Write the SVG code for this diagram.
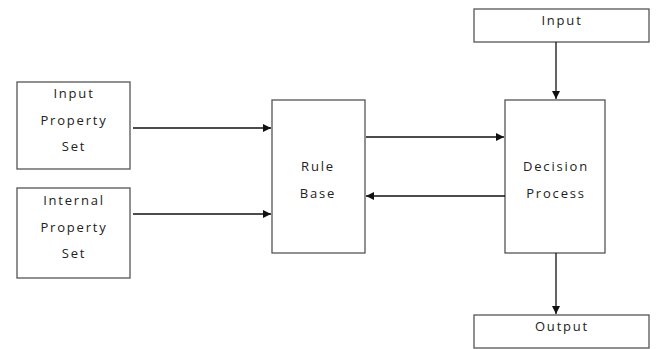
<svg xmlns="http://www.w3.org/2000/svg" width="656" height="349" viewBox="0 0 656 349">
  <style>
    .box { fill: #ffffff; stroke: #555555; stroke-width: 1.3; }
    .lbl { font-family: "Open Sans", "Liberation Sans", Arial, sans-serif; font-size: 13px; fill: #222222; text-anchor: middle; letter-spacing: 1.8px; }
    .wire { stroke: #111111; stroke-width: 1.3; fill: none; marker-end: url(#arrow); }
  </style>
  <defs>
    <marker id="arrow" viewBox="0 0 10 10" refX="10" refY="5" markerWidth="10" markerHeight="8" markerUnits="userSpaceOnUse" orient="auto">
      <path d="M0,0 L10,5 L0,10 z" fill="#111111"/>
    </marker>
  </defs>
  <rect width="656" height="349" fill="#ffffff"/>

  <g id="input-property-set">
    <rect class="box" x="17" y="82" width="113" height="87"/>
    <text class="lbl" x="74" y="98">Input</text>
    <text class="lbl" x="74" y="125">Property</text>
    <text class="lbl" x="74" y="151">Set</text>
  </g>

  <g id="internal-property-set">
    <rect class="box" x="17" y="188" width="113" height="90"/>
    <text class="lbl" x="74" y="205">Internal</text>
    <text class="lbl" x="74" y="232">Property</text>
    <text class="lbl" x="74" y="258">Set</text>
  </g>

  <g id="rule-base">
    <rect class="box" x="272" y="100" width="93" height="153"/>
    <text class="lbl" x="318" y="171">Rule</text>
    <text class="lbl" x="318" y="198">Base</text>
  </g>

  <g id="decision-process">
    <rect class="box" x="505" y="100" width="100" height="153"/>
    <text class="lbl" x="556" y="171">Decision</text>
    <text class="lbl" x="556" y="198">Process</text>
  </g>

  <g id="input">
    <rect class="box" x="474" y="9" width="175" height="33"/>
    <text class="lbl" x="562" y="25">Input</text>
  </g>

  <g id="output">
    <rect class="box" x="474" y="315" width="175" height="33"/>
    <text class="lbl" x="562" y="331">Output</text>
  </g>

  <g id="connectors">
    <line class="wire" x1="133" y1="128" x2="271" y2="128"/>
    <line class="wire" x1="133" y1="214" x2="271" y2="214"/>
    <line class="wire" x1="366" y1="137" x2="504" y2="137"/>
    <line class="wire" x1="505" y1="196" x2="366" y2="196"/>
    <line class="wire" x1="556" y1="42" x2="556" y2="99"/>
    <line class="wire" x1="556" y1="253" x2="556" y2="314"/>
  </g>
</svg>
